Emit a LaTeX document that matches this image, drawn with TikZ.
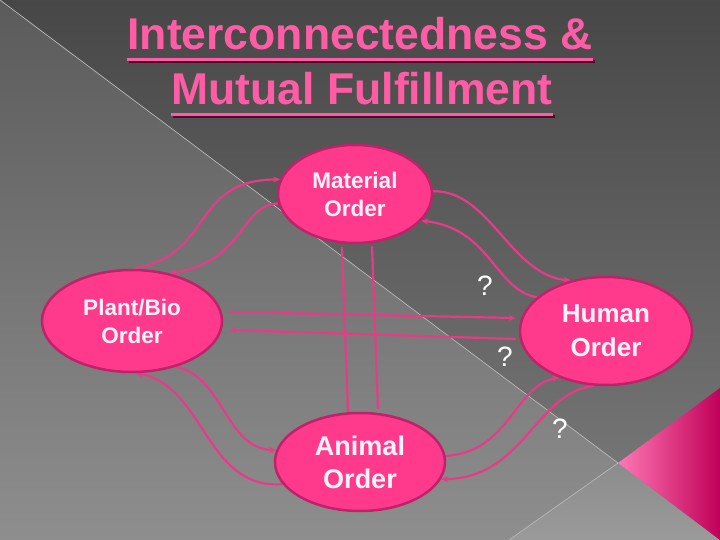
\documentclass[tikz,border=0pt]{standalone}
\usepackage{fontspec}
\setmainfont{Liberation Sans}
\usetikzlibrary{shapes.geometric,arrows.meta}
\definecolor{bgDarkTop}{HTML}{474747}
\definecolor{bgDarkBot}{HTML}{7C7C7C}
\definecolor{bgLightTop}{HTML}{5B5B5B}
\definecolor{bgLightBot}{HTML}{8E8E8E}
\definecolor{bgRightTop}{HTML}{8C8C8C}
\definecolor{bgRightBot}{HTML}{9A9A9A}
\definecolor{pinkL}{HTML}{FF78B4}
\definecolor{pinkM}{HTML}{F2007A}
\definecolor{pinkR}{HTML}{C00058}
\definecolor{lineCol}{HTML}{B8B8B8}
\definecolor{titlePink}{HTML}{FF5CA6}
\definecolor{titleShadow}{HTML}{4E0C26}
\definecolor{ordFill}{HTML}{FF3A8C}
\definecolor{ordBorder}{HTML}{C0226A}
\definecolor{ordText}{HTML}{FFF2F8}
\definecolor{linkCol}{HTML}{E63C86}
\pgfdeclarelayer{bglayer}
\pgfdeclarelayer{linklayer}
\pgfsetlayers{bglayer,linklayer,main}
\tikzset{
  orderbox/.style={ellipse, draw=ordBorder, line width=2.5pt, fill=ordFill, text=ordText, align=center, inner sep=0pt},
  linkline/.style={draw=linkCol, line width=2.2pt},
  arrowend/.style={-{Stealth[length=7pt,width=6pt]}},
  qmark/.style={text=white, inner sep=0pt, font=\fontsize{28}{30}\selectfont},
  thinline/.style={draw=lineCol, line width=0.7pt},
  titletext/.style={inner sep=0pt, anchor=base, text=titlePink, font=\bfseries\fontsize{44.5}{50}\selectfont},
}
\begin{document}
\begin{tikzpicture}[x=1pt,y=-1pt]
\useasboundingbox (0,0) rectangle (720,540);
\begin{pgfonlayer}{bglayer}
  \shade[top color=bgDarkTop, bottom color=bgDarkBot] (0,0) rectangle (720,540);
  \shade[top color=bgLightTop, bottom color=bgLightBot] (0,0) -- (618,463) -- (509,540) -- (0,540) -- cycle;
  \shade[top color=bgRightTop, bottom color=bgRightBot] (509,540) -- (618,463) -- (720,540) -- cycle;
  \shade[left color=pinkL, middle color=pinkM, right color=pinkR] (618,463) -- (720,388) -- (720,540) -- cycle;
  \draw[thinline] (0,0) -- (618,463) -- (509,540);
\end{pgfonlayer}

% title
\node[titletext] (t1) at (360,50) {Interconnectedness \&};
\node[titletext] (t2) at (362,105) {Mutual Fulfillment};
\draw[titleShadow, line width=3pt] ([shift={(2,12)}]t1.base west) -- ([shift={(2,12)}]t1.base east);
\draw[titlePink, line width=3pt] ([shift={(0,10)}]t1.base west) -- ([shift={(0,10)}]t1.base east);
\draw[titleShadow, line width=3pt] ([shift={(2,12)}]t2.base west) -- ([shift={(2,12)}]t2.base east);
\draw[titlePink, line width=3pt] ([shift={(0,10)}]t2.base west) -- ([shift={(0,10)}]t2.base east);

% order nodes
\node[orderbox, minimum width=154pt, minimum height=98pt, font=\bfseries\fontsize{22.5}{28}\selectfont] (mat) at (355,194) {Material\\Order};
\node[orderbox, minimum width=180pt, minimum height=102pt, font=\bfseries\fontsize{22.5}{28}\selectfont] (plant) at (132,321) {Plant/Bio\\Order};
\node[orderbox, minimum width=172pt, minimum height=108pt, font=\bfseries\fontsize{26}{34}\selectfont] (hum) at (606,331) {Human\\Order};
\node[orderbox, minimum width=170pt, minimum height=98pt, font=\bfseries\fontsize{27}{33}\selectfont] (anim) at (360,462) {Animal\\Order};

% connectors
\begin{pgfonlayer}{linklayer}
  \draw[linkline, arrowend] (plant.89) .. controls (215,255) and (190,180) .. (mat.169);
  \draw[linkline, arrowend] (mat.187) .. controls (240,205) and (245,262) .. (plant.52);
  \draw[linkline, arrowend] (mat.2) .. controls (490,190) and (510,275) .. (hum.125);
  \draw[linkline, arrowend] (hum.154) .. controls (495,290) and (490,228) .. (mat.-22);
  \draw[linkline, arrowend] ([shift={(6,-9)}]plant.east) -- ([shift={(-3,-13)}]hum.west);
  \draw[linkline, arrowend] ([shift={(-3,8)}]hum.west) -- ([shift={(6,9)}]plant.east);
  \draw[linkline] ([shift={(-13,3)}]mat.south) -- ([shift={(-12,0)}]anim.north);
  \draw[linkline] ([shift={(17,2)}]mat.south) -- ([shift={(18,-3)}]anim.north);
  \draw[linkline, arrowend] (plant.-46) .. controls (225,378) and (225,448) .. (anim.172);
  \draw[linkline, arrowend] (anim.196) .. controls (205,490) and (205,385) .. (plant.-86);
  \draw[linkline, arrowend] (anim.4) .. controls (510,452) and (515,385) .. (hum.-135);
  \draw[linkline, arrowend] (hum.-102) .. controls (535,392) and (525,478) .. (anim.-12);
\end{pgfonlayer}

% question marks
\node[qmark] (q1) at (485,286) {?};
\node[qmark] (q2) at (505,357) {?};
\node[qmark] (q3) at (560,429) {?};
\end{tikzpicture}
\end{document}
